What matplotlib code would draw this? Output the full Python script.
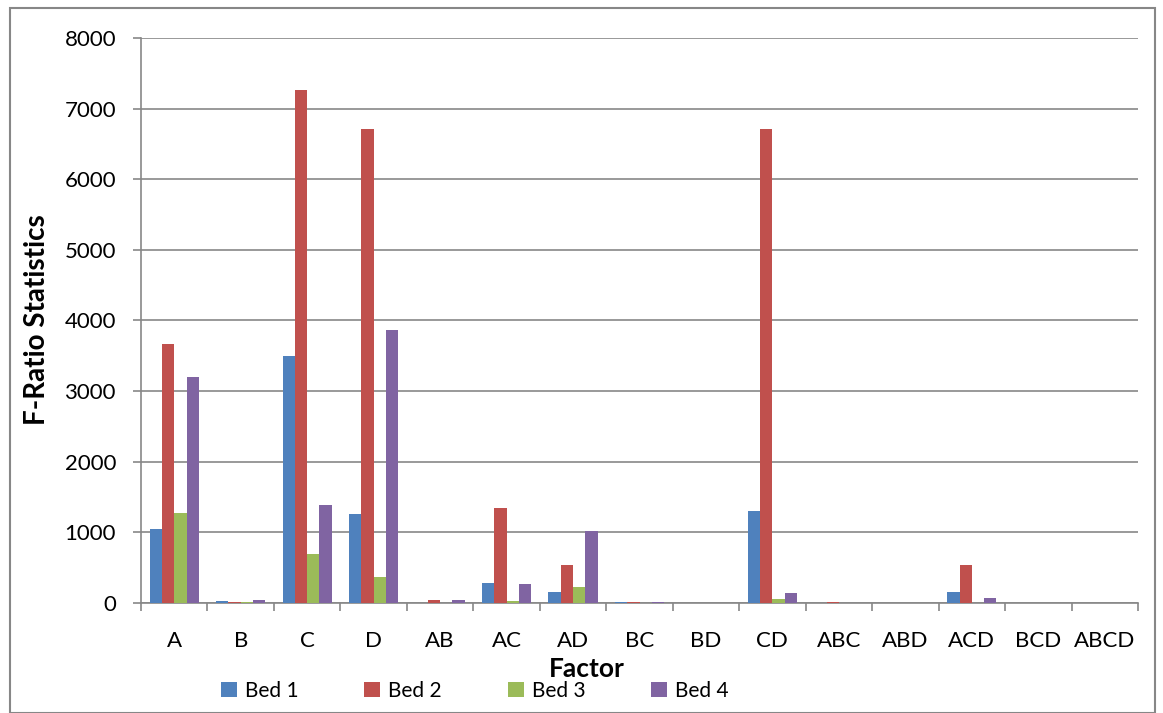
import matplotlib.pyplot as plt
import numpy as np
from matplotlib.patches import Rectangle

factors = ["A", "B", "C", "D", "AB", "AC", "AD", "BC", "BD", "CD",
           "ABC", "ABD", "ACD", "BCD", "ABCD"]
bed1 = [1050, 35, 3500, 1265, 0, 285, 160, 20, 0, 1305, 0, 5, 150, 0, 0]
bed2 = [3670, 15, 7265, 6715, 40, 1340, 540, 15, 0, 6715, 15, 0, 545, 0, 0]
bed3 = [1275, 15, 690, 370, 0, 30, 220, 5, 0, 50, 0, 0, 3, 0, 0]
bed4 = [3200, 45, 1390, 3860, 40, 270, 1020, 10, 0, 140, 5, 0, 65, 0, 5]
series = [("Bed 1", bed1), ("Bed 2", bed2), ("Bed 3", bed3), ("Bed 4", bed4)]
colors = ["#4F81BD", "#C0504D", "#9BBB59", "#8064A2"]

plt.rcParams['font.family'] = ['Lato', 'DejaVu Sans']

W, H = 1163, 713
fig = plt.figure(figsize=(W / 100, H / 100), dpi=100)
ax = fig.add_axes([141 / W, 1 - 603 / H, (1138 - 141) / W, (603 - 38) / H])

x = np.arange(len(factors))
bw = 0.185
handles = []
for i, (name, vals) in enumerate(series):
    h = ax.bar(x + (i - 1.5) * bw, vals, bw, color=colors[i], label=name, zorder=3)
    handles.append(h)

ax.set_xlim(-0.5, len(factors) - 0.5)
ax.set_ylim(0, 8000)
ax.set_yticks(range(0, 8001, 1000))
ax.yaxis.grid(True, color="#878787", linewidth=1.2, zorder=0)

# category boundaries get the tick marks, labels sit between them
ax.set_xticks(np.arange(-0.5, len(factors), 1))
ax.set_xticklabels([])
ax.set_xticks(x, minor=True)
ax.set_xticklabels(factors, minor=True, fontsize=16)
ax.tick_params(axis='x', which='minor', length=0, pad=20)
ax.tick_params(axis='x', which='major', length=6, color="#878787", width=1.2)
ax.tick_params(axis='y', length=6, color="#878787", width=1.2, labelsize=16, pad=12)

for s in ["top", "right"]:
    ax.spines[s].set_visible(False)
for s in ["left", "bottom"]:
    ax.spines[s].set_color("#878787")
    ax.spines[s].set_linewidth(1.2)

fig.text(37 / W, 1 - 320 / H, "F-Ratio Statistics", rotation=90, ha='center', va='center',
         fontsize=20, fontweight='bold')
fig.text(587 / W, 1 - 669 / H, "Factor", ha='center', va='center', fontsize=19, fontweight='bold')

fig.legend(handles=handles, loc='center left', bbox_to_anchor=(221 / W, 1 - 691 / H, 508 / W, 0),
           mode='expand', ncol=4, frameon=False, fontsize=15, handlelength=0.75, handleheight=0.75,
           handletextpad=0.4, borderaxespad=0, borderpad=0)

fig.patches.append(Rectangle((10 / W, 0), (1155 - 10) / W, 1 - 8 / H, transform=fig.transFigure,
                             fill=False, edgecolor="#878787", linewidth=1.5))

fig.savefig("out.png", dpi=100)
